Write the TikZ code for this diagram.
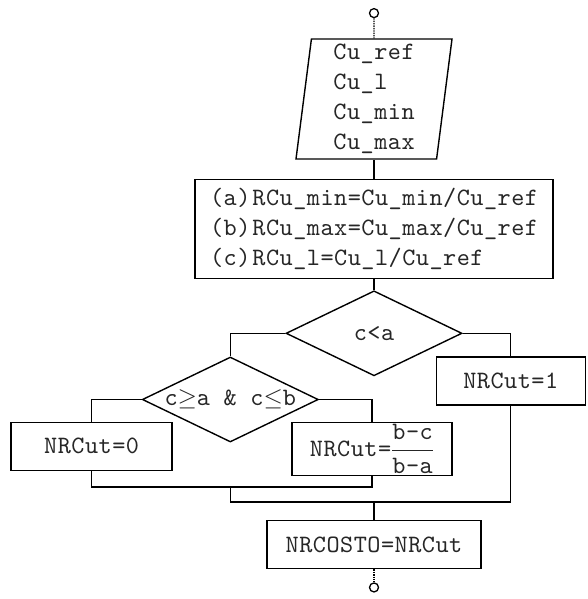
\documentclass[tikz,border=0pt]{standalone}
\usepackage{fontspec}
\setmonofont{lmmono10-regular.otf}[LetterSpace=2]
\usetikzlibrary{shapes.geometric, positioning, calc}

\begin{document}
\begin{tikzpicture}[
      x=1pt, y=1pt,
      font=\ttfamily\fontsize{25}{30}\selectfont,
      base/.style={draw, line width=1.4pt, text=black!85},
      term/.style={circle, draw, line width=1.3pt, minimum size=9pt, inner sep=0pt},
      io/.style={base, trapezium, trapezium left angle=82, trapezium right angle=98, trapezium stretches body, minimum width=156pt, minimum height=120pt, align=left, inner sep=0pt},
      proc/.style={base, rectangle, minimum height=48pt, inner sep=2pt},
      dec/.style={base, diamond, aspect=2.1, minimum width=176pt, minimum height=85pt, inner sep=0pt},
      line/.style={line width=1.4pt},
      dots/.style={line width=1.4pt, densely dotted}
    ]
    \useasboundingbox (0,0) rectangle (587,-599);

    % main column
    \node[io] (inp) at (374,-99) {Cu\_ref\\Cu\_l\\Cu\_min\\Cu\_max};
    \node[term, above=20pt of inp] (start) {};
    \node[proc, below=19pt of inp, minimum width=358pt, minimum height=99pt, align=left] (ratio)
      {(a)\hspace{2pt}RCu\_min=Cu\_min/Cu\_ref\\(b)\hspace{2pt}RCu\_max=Cu\_max/Cu\_ref\\(c)\hspace{2pt}RCu\_l=Cu\_l/Cu\_ref};
    \node[dec, below=11pt of ratio] (ifa) {c<a};

    % branches
    \node[proc, below=23pt of ifa.east, xshift=48pt, minimum width=149pt] (one) {NRCut=1};
    \node[dec, below=23pt of ifa.west, xshift=-55pt] (ifab) {c$\geq$a \& c$\leq$b};
    \node[proc, below=22pt of ifab.west, xshift=-50pt, minimum width=161pt] (zero) {NRCut=0};
    \node[proc, below=22pt of ifab.east, xshift=53pt, minimum width=160pt] (frac)
      {NRCut=$\displaystyle\frac{\mbox{b-c}}{\mbox{b-a}}$};

    % joins
    \coordinate (m1) at ([yshift=-16pt]zero.south -| ifab.south);
    \coordinate[below=15pt of m1] (m2);
    \coordinate (m3) at (m2 -| ifa.south);
    \node[proc, below=18pt of m3, minimum width=214pt] (cost) {NRCOSTO=NRCut};
    \node[term, below=13pt of cost] (stop) {};

    \draw[dots] (start) -- (inp);
    \draw[line] (ratio.north) -- (ratio.north |- inp.south);
    \draw[line] (ratio) -- (ifa);
    \draw[line] (ifa.east) -| (one.north);
    \draw[line] (ifa.west) -| (ifab.north);
    \draw[line] (ifab.west) -| (zero.north);
    \draw[line] (ifab.east) -| (frac.north);
    \draw[line] (zero.south) |- (m1) -| (frac.south);
    \draw[line] (m1) -- (m2) -| (one.south);
    \draw[line] (m3) -- (cost);
    \draw[dots] (cost) -- (stop);
  \end{tikzpicture}
\end{document}
